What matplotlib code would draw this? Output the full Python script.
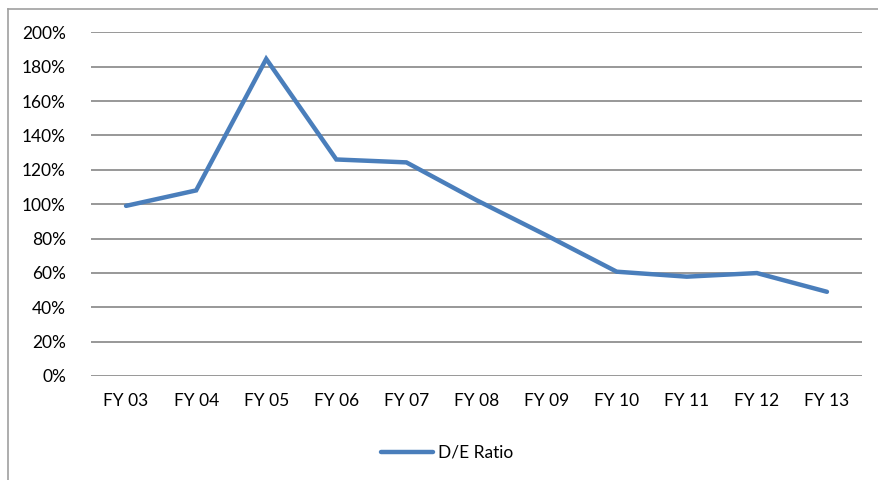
import matplotlib
matplotlib.use("Agg")
import matplotlib.pyplot as plt
from matplotlib.lines import Line2D
from matplotlib.ticker import FuncFormatter

plt.rcParams['font.family'] = ['Lato', 'DejaVu Sans']

# data
years = ["FY 03", "FY 04", "FY 05", "FY 06", "FY 07", "FY 08",
         "FY 09", "FY 10", "FY 11", "FY 12", "FY 13"]
de_ratio = [99, 108, 184.5, 126, 124.3, 102.3, 81.8, 60.7, 57.8, 59.9, 49]
y_ticks = [0, 20, 40, 60, 80, 100, 120, 140, 160, 180, 200]

blue = "#4A7EBB"
grid = "#868686"

fig = plt.figure(figsize=(8.79, 4.80), dpi=100)
ax = fig.add_axes([91 / 879, 1 - 376 / 480, 771 / 879, (376 - 32.3) / 480])

x = list(range(len(years)))
ax.plot(x, de_ratio, color=blue, lw=3.2, solid_joinstyle="miter",
        solid_capstyle="round", label="D/E Ratio")

ax.set_xlim(-0.5, len(years) - 0.5)
ax.set_ylim(0, 200)
ax.set_yticks(y_ticks)
ax.yaxis.set_major_formatter(FuncFormatter(lambda v, p: f"{v:.0f}%"))
ax.set_xticks(x)
ax.set_xticklabels(years)

for v in y_ticks:
    ax.axhline(v, color=grid, lw=1.2, zorder=0)

for s in ax.spines.values():
    s.set_visible(False)
ax.tick_params(axis="both", length=0, labelsize=12.5, colors="black")
ax.tick_params(axis="y", pad=18)
ax.tick_params(axis="x", pad=12)

leg = fig.legend(loc="center", bbox_to_anchor=(447 / 879, 1 - 453 / 480),
                 frameon=False, fontsize=12.5, handlelength=3.0,
                 handletextpad=0.25)

# chart border (left and top visible)
fig.add_artist(Line2D([8 / 879, 8 / 879], [0, 1 - 9 / 480],
                      transform=fig.transFigure, color="#A0A0A0", lw=1.2))
fig.add_artist(Line2D([8 / 879, 1], [1 - 9 / 480, 1 - 9 / 480],
                      transform=fig.transFigure, color="#A0A0A0", lw=1.2))

fig.savefig("out.png", dpi=100)
